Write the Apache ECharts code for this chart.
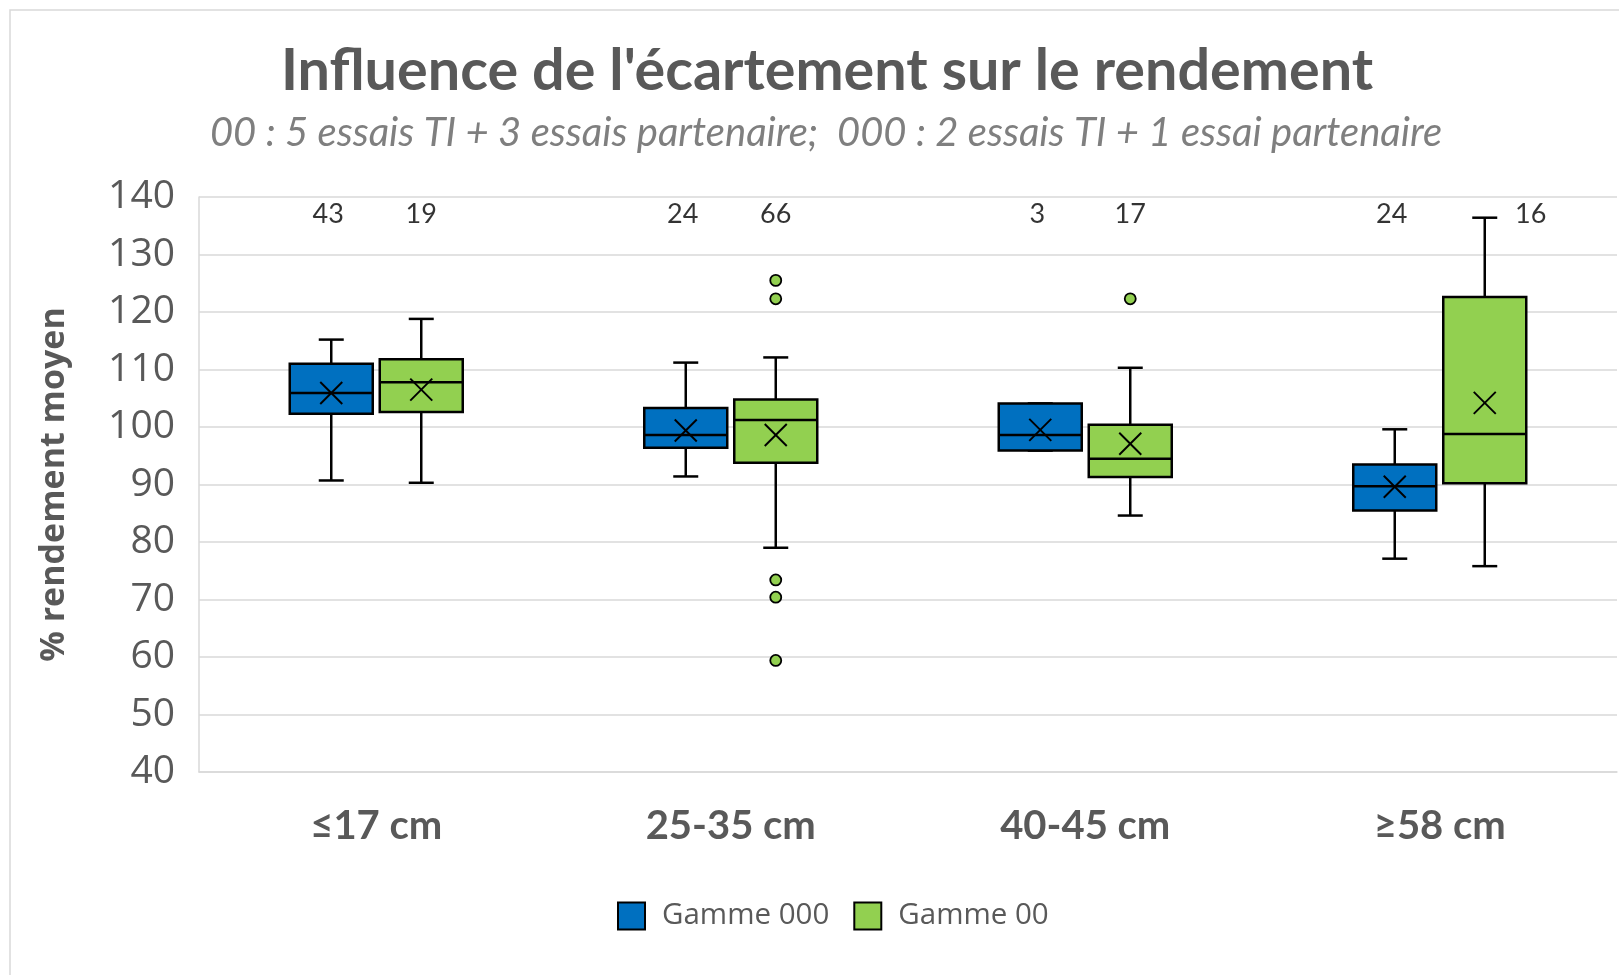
<!DOCTYPE html>
<html>
<head>
<meta charset="utf-8">
<title>Influence de l'écartement sur le rendement</title>
<script src="https://cdn.jsdelivr.net/npm/echarts@6/dist/echarts.min.js"></script>
<style>
  html, body { margin: 0; padding: 0; background: #fff; }
  #chart { width: 1619px; height: 975px; }
</style>
</head>
<body>
<div id="chart"></div>
<script>
// catégories d'écartement
var categories = ["≤17 cm", "25-35 cm", "40-45 cm", "≥58 cm"];
var yTicks = [40, 50, 60, 70, 80, 90, 100, 110, 120, 130, 140];

// Gamme 000 : [min, Q1, médiane, Q3, max, moyenne]
var gamme000 = [
    [90.7, 102.3, 105.9, 111.0, 115.2, 105.9],
    [91.4, 96.4, 98.6, 103.3, 111.2, 99.4],
    [95.9, 95.9, 98.6, 104.1, 104.1, 99.5],
    [77.1, 85.5, 89.7, 93.5, 99.6, 89.6]
];
// Gamme 00
var gamme00 = [
    [90.3, 102.6, 107.8, 111.8, 118.8, 106.5],
    [79.0, 93.8, 101.2, 104.8, 112.1, 98.6],
    [84.6, 91.3, 94.5, 100.4, 110.3, 97.1],
    [75.8, 90.2, 98.8, 122.6, 136.4, 104.2]
];
// valeurs extrêmes (gamme 00) : [index catégorie, valeur]
var outliers00 = [[1, 125.5], [1, 122.3], [1, 73.4], [1, 70.4], [1, 59.4], [2, 122.3]];
// nombre d'observations
var count000 = [43, 24, 3, 24];
var count00 = [19, 66, 17, 16];

var BLUE = "#0070C0";
var GREEN = "#92D050";
var GREY = "#595959";
var BOX_OFFSET = 45;   // px, décalage du centre de catégorie
var BOX_WIDTH = 83;
var CAP_WIDTH = 25;
var COUNT_LEVEL = 137;

var chart = echarts.init(document.getElementById("chart"));

// dessin d'une boîte à moustaches avec la croix de moyenne
function boxRenderer(offset) {
    return function (params, api) {
        var cat = api.value(0);
        var pMin = api.coord([cat, api.value(1)]);
        var pQ1 = api.coord([cat, api.value(2)]);
        var pMed = api.coord([cat, api.value(3)]);
        var pQ3 = api.coord([cat, api.value(4)]);
        var pMax = api.coord([cat, api.value(5)]);
        var pMean = api.coord([cat, api.value(6)]);
        var cx = pMin[0] + offset;
        var hw = BOX_WIDTH / 2, hc = CAP_WIDTH / 2, m = 11;
        var line = {stroke: "#000", lineWidth: 2.5};
        var fill = api.visual("color");
        return {
            type: "group",
            children: [
                {type: "line", shape: {x1: cx, y1: pMax[1], x2: cx, y2: pQ3[1]}, style: line},
                {type: "line", shape: {x1: cx, y1: pQ1[1], x2: cx, y2: pMin[1]}, style: line},
                {type: "line", shape: {x1: cx - hc, y1: pMax[1], x2: cx + hc, y2: pMax[1]}, style: line},
                {type: "line", shape: {x1: cx - hc, y1: pMin[1], x2: cx + hc, y2: pMin[1]}, style: line},
                {type: "rect", shape: {x: cx - hw, y: pQ3[1], width: BOX_WIDTH, height: pQ1[1] - pQ3[1]},
                    style: {fill: fill, stroke: "#000", lineWidth: 2.5}},
                {type: "line", shape: {x1: cx - hw, y1: pMed[1], x2: cx + hw, y2: pMed[1]}, style: line},
                {type: "line", shape: {x1: cx - m, y1: pMean[1] - m, x2: cx + m, y2: pMean[1] + m}, style: {stroke: "#000", lineWidth: 2}},
                {type: "line", shape: {x1: cx - m, y1: pMean[1] + m, x2: cx + m, y2: pMean[1] - m}, style: {stroke: "#000", lineWidth: 2}}
            ]
        };
    };
}

function toBoxData(stats) {
    return stats.map(function (s, i) {
        return [i].concat(s);
    });
}

// étiquettes d'effectif ; décalées à droite si la moustache monte jusque-là
function toCountData(counts, stats, offset) {
    return counts.map(function (c, i) {
        var shift = stats[i][4] > COUNT_LEVEL - 4 ? BOX_OFFSET + 1 : 0;
        return {value: [i, COUNT_LEVEL, c], label: {offset: [offset + shift, 0]}};
    });
}

var countLabel = {
    show: true,
    position: "inside",
    formatter: function (p) { return p.value[2]; },
    color: "#000",
    fontFamily: "Lato",
    fontSize: 27
};

var option = {
    animation: false,
    backgroundColor: "#fff",
    graphic: [{
        type: "rect",
        shape: {x: 10, y: 10, width: 1700, height: 1000},
        style: {fill: "none", stroke: "#d9d9d9", lineWidth: 1.5},
        silent: true
    }],
    title: [{
        text: "Influence de l'écartement sur le rendement",
        left: 822,
        top: 37,
        textAlign: "center",
        textStyle: {fontFamily: "Lato", fontWeight: "bold", fontSize: 57.5, color: GREY}
    }, {
        text: "00 : 5 essais TI + 3 essais partenaire;  000 : 2 essais TI + 1 essai partenaire",
        left: 821,
        top: 108,
        textAlign: "center",
        textStyle: {fontFamily: "Lato", fontStyle: "italic", fontWeight: "normal", fontSize: 40, color: "#7f7f7f"}
    }],
    legend: {
        left: 612,
        top: 896,
        itemWidth: 27,
        itemHeight: 27,
        itemGap: 24,
        icon: "rect",
        itemStyle: {borderColor: "#000", borderWidth: 2},
        textStyle: {fontFamily: "Open Sans", fontSize: 29.5, color: GREY, padding: [0, 0, 0, 12]},
        data: ["Gamme 000", "Gamme 00"]
    },
    grid: {left: 199, right: 2, top: 197, bottom: 203},
    xAxis: {
        type: "category",
        data: categories,
        axisLine: {lineStyle: {color: "#d9d9d9", width: 1.5}},
        axisTick: {show: false},
        axisLabel: {margin: 34, fontFamily: "Lato", fontWeight: "bold", fontSize: 40, color: GREY}
    },
    yAxis: {
        type: "value",
        min: yTicks[0],
        max: yTicks[yTicks.length - 1],
        interval: 10,
        name: "% rendement moyen",
        nameLocation: "middle",
        nameGap: 128,
        nameTextStyle: {fontFamily: "Open Sans", fontWeight: "bold", fontSize: 34, color: GREY},
        axisLine: {show: true, lineStyle: {color: "#d9d9d9", width: 1.5}},
        axisTick: {show: false},
        splitLine: {lineStyle: {color: "#d9d9d9", width: 1.5}},
        axisLabel: {margin: 24, fontFamily: "Open Sans", fontSize: 39, color: GREY}
    },
    series: [{
        name: "Gamme 000",
        type: "custom",
        itemStyle: {color: BLUE},
        renderItem: boxRenderer(-BOX_OFFSET),
        encode: {x: 0, y: [1, 2, 3, 4, 5, 6]},
        data: toBoxData(gamme000),
        z: 3
    }, {
        name: "Gamme 00",
        type: "custom",
        itemStyle: {color: GREEN},
        renderItem: boxRenderer(BOX_OFFSET),
        encode: {x: 0, y: [1, 2, 3, 4, 5, 6]},
        data: toBoxData(gamme00),
        z: 3
    }, {
        name: "outliers 00",
        type: "scatter",
        symbol: "circle",
        symbolSize: 11,
        symbolOffset: [BOX_OFFSET, 0],
        itemStyle: {color: GREEN, borderColor: "#000", borderWidth: 1.8, opacity: 1},
        data: outliers00,
        z: 4
    }, {
        name: "n 000",
        type: "scatter",
        symbolSize: 0,
        label: countLabel,
        data: toCountData(count000, gamme000, -BOX_OFFSET - 3),
        z: 5
    }, {
        name: "n 00",
        type: "scatter",
        symbolSize: 0,
        label: countLabel,
        data: toCountData(count00, gamme00, BOX_OFFSET),
        z: 5
    }]
};

chart.setOption(option);
</script>
</body>
</html>
